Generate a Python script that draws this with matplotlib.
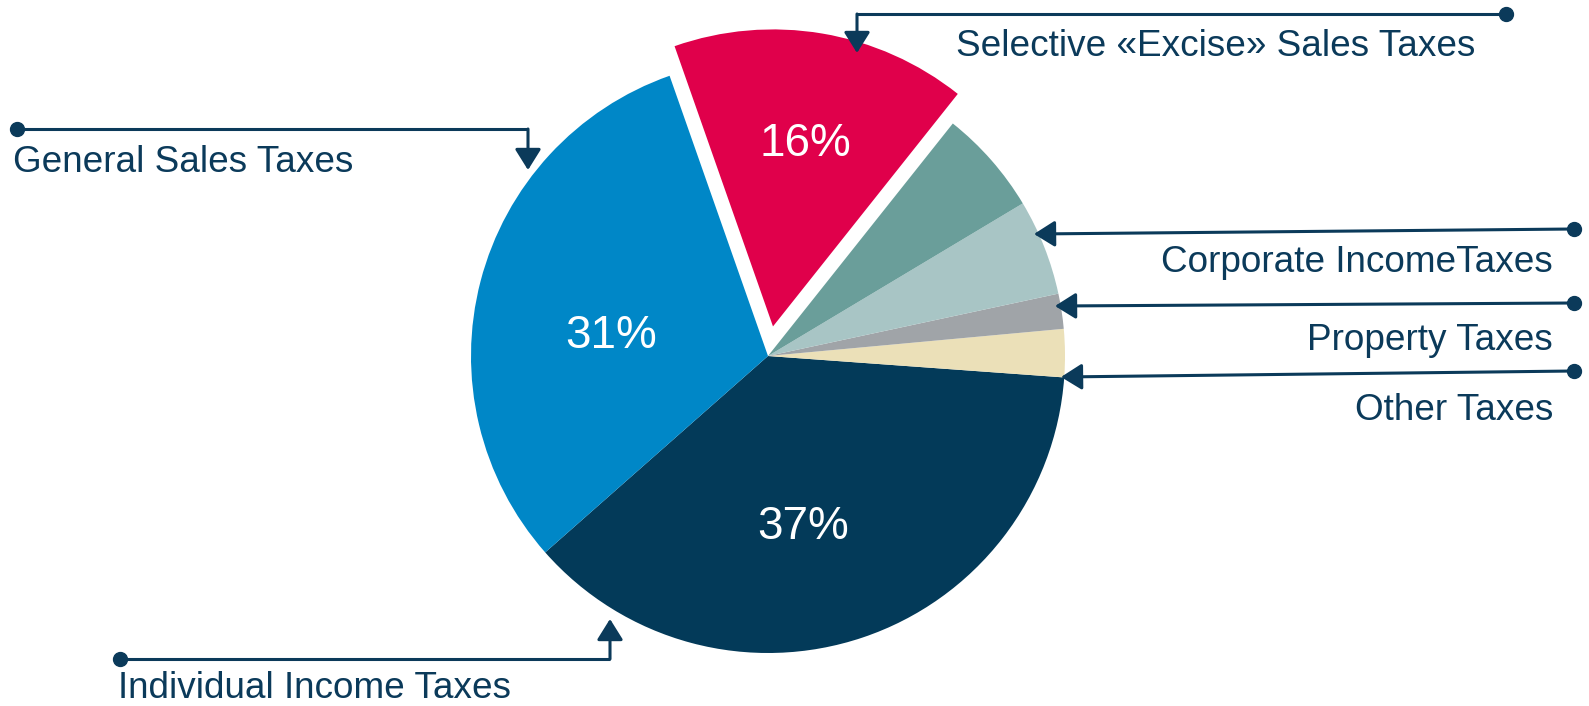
import matplotlib.pyplot as plt

plt.rcParams['font.family'] = ['Liberation Sans', 'DejaVu Sans']

# slices, counterclockwise from the lower left
categories = ["Individual Income Taxes", "Other Taxes", "Property Taxes",
              "Corporate IncomeTaxes", "", "Selective «Excise» Sales Taxes",
              "General Sales Taxes"]
shares = [37.2, 2.6, 1.9, 5.2, 5.7, 16.0, 31.0]
shown_pct = [37, None, None, None, None, 16, 31]
colors = ["#033a59", "#ebe0b8", "#a0a4a8", "#a8c5c5", "#6a9e9a",
          "#e0004b", "#0087c7"]
explode = [0, 0, 0, 0, 0, 30, 0]   # pixels, pie() does not scale it

INK = "#0b3a5a"
W, H = 1589, 706

fig = plt.figure(figsize=(W / 100, H / 100), dpi=100)
ax = fig.add_axes([0, 0, 1, 1])

# y axis is inverted, so angles go the other way
ax.pie(shares, colors=colors, explode=explode, center=(768, 356), radius=297,
       startangle=-221.4, counterclock=False, frame=True,
       wedgeprops=dict(linewidth=0))
ax.set_xlim(0, W)
ax.set_ylim(H, 0)   # pixel coordinates, y down
ax.axis('off')

# percent labels
pct_pos = {0: (803, 527), 5: (805, 144), 6: (611, 336)}
for i, p in pct_pos.items():
    ax.text(p[0], p[1], f"{shown_pct[i]}%", color="white", fontsize=33,
            ha="center", va="center")

arrow = dict(arrowstyle="-|>,head_length=0.8,head_width=0.5", color=INK,
             lw=2.2, shrinkA=0, shrinkB=0, mutation_scale=16)


def callout(dot, corner, tip, label, text_xy, ha):
    ax.plot([dot[0], corner[0]], [dot[1], corner[1]], color=INK, lw=2.2,
            solid_capstyle="butt")
    ax.plot(dot[0], dot[1], "o", color=INK, markersize=10)
    ax.annotate("", xy=tip, xytext=corner, arrowprops=arrow)
    ax.text(text_xy[0], text_xy[1], label, color=INK, fontsize=26.6,
            ha=ha, va="center")


callout((17, 129), (528, 129), (528, 170), categories[6], (13, 162), "left")
callout((1506, 14), (857, 14), (857, 53), categories[5], (956, 47), "left")
callout((1574, 229), (1574, 229), (1034, 234), categories[3], (1553, 263), "right")
callout((1574, 303), (1574, 303), (1055, 306), categories[2], (1553, 340), "right")
callout((1574, 371), (1574, 371), (1061, 377), categories[1], (1553, 411), "right")
callout((120, 659), (610, 659), (610, 619), categories[0], (118, 689), "left")

fig.savefig("out.png", dpi=100)
